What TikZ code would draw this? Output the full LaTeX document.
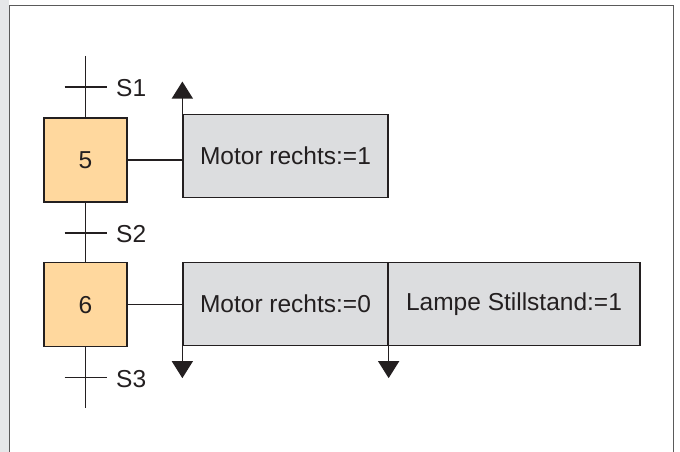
\documentclass[tikz,border=0pt]{standalone}
\usepackage{fontspec}
\setmainfont{Liberation Sans}
\usetikzlibrary{arrows.meta}
\definecolor{stepfill}{HTML}{FFD89E}
\definecolor{actfill}{HTML}{DCDDDF}
\definecolor{stripgray}{HTML}{E6E7E9}
\definecolor{framegray}{HTML}{5A5A5A}
\definecolor{ink}{HTML}{231F20}
\begin{document}
\begin{tikzpicture}[x=1pt,y=-1pt,
  txt/.style={font=\fontsize{24.5}{28}\selectfont, text=ink},
  stepbox/.style={draw=ink, line width=1.3pt, fill=stepfill, minimum width=83pt, minimum height=84pt, inner sep=0pt, txt},
  actbox/.style={draw=ink, line width=1.3pt, fill=actfill, minimum height=83pt, inner sep=0pt, txt},
  wire/.style={draw=ink, line width=1.3pt},
  darr/.style={wire, -{Triangle[length=17pt,width=21pt]}},
  lbl/.style={txt, anchor=west, inner sep=0pt}
]
\useasboundingbox (0,0) rectangle (680,452);
\fill[white] (0,0) rectangle (680,452);
\fill[stripgray] (0,0) rectangle (9,452);
\draw[framegray, line width=1.5pt] (9.5,452) -- (9.5,5.5) -- (673.5,5.5) -- (673.5,452);

% steps
\node[stepbox] (s5) at (85.5,160) {5};
\node[stepbox] (s6) at (85.5,304.7) {6};

% action boxes
\node[actbox, minimum width=205pt] (a5) at (285.5,155.7) {Motor rechts:=1};
\node[actbox, minimum width=205pt] (a6a) at (285.5,304) {Motor rechts:=0};
\node[actbox, minimum width=252pt] (a6b) at (514,304) {Lampe Stillstand:=1};

% transitions
\coordinate (top) at (85.5,56);
\coordinate (bot) at (85.5,408);
\coordinate (t1) at (85.5,87);
\coordinate (t2) at (85.5,233);
\coordinate (t3) at (85.5,377.7);
\draw[wire] (top) -- (s5.north);
\draw[wire] (s5.south) -- (s6.north);
\draw[wire] (s6.south) -- (bot);
\foreach \t in {t1,t2,t3}{
  \draw[wire] ([xshift=-21pt]\t) -- ([xshift=21pt]\t);
}
\node[lbl] (l1) at (116,88) {S1};
\node[lbl] (l2) at (116,234) {S2};
\node[lbl] (l3) at (116,379) {S3};

% connections
\draw[wire] (s5.east) -- (s5.east -| a5.west);
\draw[wire] (s6.east) -- (s6.east -| a6a.west);

% arrows
\coordinate (up5) at ([yshift=32pt]a5.north west);
\draw[darr] (a5.north west) -- (up5);
\coordinate (dn1) at ([yshift=-32pt]a6a.south west);
\coordinate (dn2) at ([yshift=-32pt]a6a.south east);
\draw[darr] (a6a.south west) -- (dn1);
\draw[darr] (a6a.south east) -- (dn2);
\end{tikzpicture}
\end{document}
